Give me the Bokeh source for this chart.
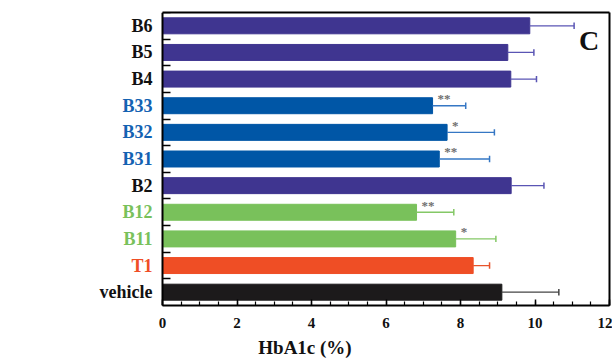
from bokeh.plotting import figure
from bokeh.models import (ColumnDataSource, Range1d, SingleIntervalTicker, FixedTicker,
                          Label, LinearAxis, CustomLabelingPolicy)
from bokeh.core.properties import value
from bokeh.embed import file_html
from bokeh.resources import INLINE

# ---- data (bottom to top) ----
groups = ["vehicle", "T1", "B11", "B12", "B2", "B31", "B32", "B33", "B4", "B5", "B6"]
means = [9.11, 8.34, 7.87, 6.82, 9.36, 7.43, 7.64, 7.25, 9.35, 9.27, 9.86]
errors = [1.53, 0.44, 1.08, 1.00, 0.88, 1.35, 1.27, 0.89, 0.69, 0.70, 1.19]
signif = ["", "", "*", "**", "", "**", "*", "**", "", "", ""]
families = ["vehicle", "T", "B1", "B1", "B", "B3", "B3", "B3", "B", "B", "B"]
x_min, x_max, x_step = 0, 12, 2

# ---- styles ----
bar_col = {"vehicle": "#1c1a1b", "T": "#ef4e25", "B1": "#79c15b", "B": "#3f3590", "B3": "#0056a6"}
err_col = {"vehicle": "#444444", "T": "#e8542c", "B1": "#84c866", "B": "#5a55b4", "B3": "#3577c4"}
lab_col = {"vehicle": "#111111", "T": "#ef4e25", "B1": "#79c15b", "B": "#111111", "B3": "#1462b2"}
SERIF = "Liberation Serif"

W, H = 612, 360
FRAME_L, FRAME_R = 162, 609          # pixel positions of x = 0 and x = 12
px_per_unit = (FRAME_R - FRAME_L) / (x_max - x_min)
x_left = x_min - FRAME_L / px_per_unit   # extend range so label column sits inside frame

ys = [i + 0.5 for i in range(len(groups))]
src = ColumnDataSource(dict(
    y=ys, name=groups, mean=means,
    upper=[m + e for m, e in zip(means, errors)],
    cap0=[y - 0.12 for y in ys], cap1=[y + 0.12 for y in ys],
    star_y=[y + 0.27 for y in ys], sig=signif,
    zero=[x_min] * len(groups),
    color=[bar_col[f] for f in families],
    ecolor=[err_col[f] for f in families],
    lcolor=[lab_col[f] for f in families],
))

p = figure(width=W, height=H, output_backend="svg", toolbar_location=None,
           x_range=Range1d(x_left, x_max), y_range=Range1d(0, len(groups)),
           min_border_left=0, min_border_right=W - FRAME_R, min_border_top=12,
           min_border_bottom=55)
p.background_fill_color = "white"
p.border_fill_color = "white"
p.outline_line_color = None
p.xgrid.visible = False
p.ygrid.visible = False

p.hbar(y="y", left="zero", right="mean", height=0.6, source=src,
       fill_color="color", line_color="color", line_width=1)
p.segment(x0="mean", y0="y", x1="upper", y1="y", source=src, line_color="ecolor", line_width=1.3)
p.segment(x0="upper", y0="cap0", x1="upper", y1="cap1", source=src, line_color="ecolor", line_width=1.5)
p.text(x="mean", y="star_y", text="sig", source=src, x_offset=5,
       text_font=value(SERIF), text_font_size="13px", text_font_style="bold",
       text_color="#6f6f6f", text_align="left", text_baseline="middle")

# category labels (coloured), just left of the y axis
p.text(x="zero", y="y", text="name", source=src, x_offset=-10,
       text_font=value(SERIF), text_font_style="bold", text_font_size="18px",
       text_color="lcolor", text_align="right", text_baseline="middle")

# bottom x axis
xa = p.xaxis[0]
xa.bounds = (x_min, x_max)
xa.ticker = SingleIntervalTicker(interval=x_step, num_minor_ticks=4)
xa.axis_line_width = 2
xa.major_tick_in = 6
xa.major_tick_out = 0
xa.minor_tick_in = 4
xa.minor_tick_out = 0
xa.major_tick_line_width = 1.5
xa.minor_tick_line_width = 1.2
xa.major_label_standoff = 12
xa.major_label_text_font = SERIF
xa.major_label_text_font_style = "bold"
xa.major_label_text_font_size = "15px"
xa.major_label_text_color = "#111111"
xa.axis_label = "HbA1c (%)"
xa.axis_label_standoff = 6
xa.axis_label_text_font = SERIF
xa.axis_label_text_font_style = "bold"
xa.axis_label_text_font_size = "19px"
xa.axis_label_text_color = "#111111"

no_labels = CustomLabelingPolicy(code="return new Set()")

# left y axis, fixed at x = 0, ticks at category boundaries (labels drawn as coloured text)
ya = p.yaxis[0]
ya.fixed_location = x_min
ya.ticker = FixedTicker(ticks=list(range(1, len(groups) + 1)), minor_ticks=[])
ya.axis_line_width = 2
ya.major_tick_in = 8
ya.major_tick_out = 0
ya.major_tick_line_width = 1.5
ya.major_label_policy = no_labels
ya.major_label_standoff = 0

# top and right frame lines
top = LinearAxis(bounds=(x_min, x_max), ticker=FixedTicker(ticks=[], minor_ticks=[]),
                 axis_line_width=2, major_label_policy=CustomLabelingPolicy(code="return new Set()"),
                 major_label_standoff=0)
p.add_layout(top, "above")
right = LinearAxis(ticker=FixedTicker(ticks=[], minor_ticks=[]),
                   axis_line_width=2, major_label_policy=CustomLabelingPolicy(code="return new Set()"),
                   major_label_standoff=0)
p.add_layout(right, "right")

p.add_layout(Label(x=11.45, y=9.95, text="C", text_font=SERIF, text_font_style="bold",
                   text_font_size="28px", text_color="#111111",
                   text_align="center", text_baseline="middle"))

open("out.html", "w").write(file_html(p, INLINE))
